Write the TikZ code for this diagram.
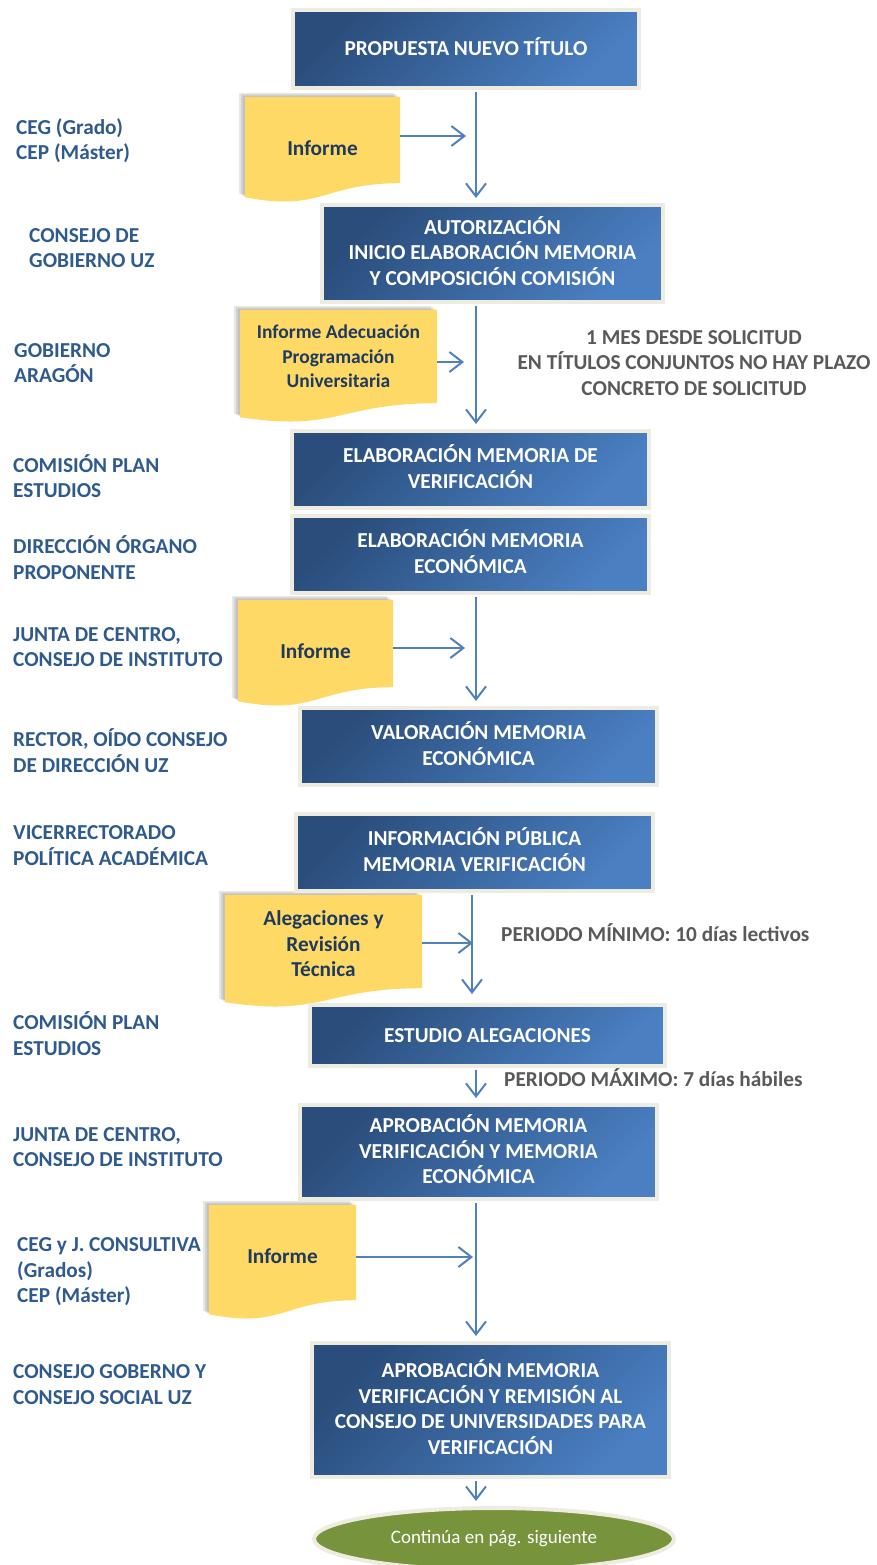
\documentclass[tikz,border=0pt]{standalone}
\usepackage{fontspec}
\setmainfont{Carlito}
\usetikzlibrary{arrows.meta,shapes.geometric,calc}
\pgfdeclarelayer{background}
\pgfsetlayers{background,main}

\definecolor{boxdark}{HTML}{2A4D7B}
\definecolor{boxlight}{HTML}{4A7FC2}
\definecolor{boxrim}{HTML}{EEECE1}
\definecolor{flowblue}{HTML}{4F81BD}
\definecolor{docyellow}{HTML}{FFD966}
\definecolor{docnavy}{HTML}{1F3A5F}
\definecolor{whoblue}{HTML}{2F5A8E}
\definecolor{notegray}{HTML}{595959}
\definecolor{endgreen}{HTML}{77933C}

\newcommand\tstrut{\rule[-5.75pt]{0pt}{25.5pt}}

\begin{document}
\begin{tikzpicture}[x=1pt, y=-1pt,
  txt/.style={font=\fontsize{21.3}{25.5}\selectfont\bfseries,
    execute at begin node=\tstrut, execute at end node=\tstrut},
  stepbox/.style={txt, draw=boxrim, line width=4pt, top color=boxdark,
    bottom color=boxlight, shading angle=45, text=white, align=center, inner sep=0pt},
  docshape/.style={inner sep=0pt},
  docbox/.style={txt, text=docnavy, align=center, inner sep=0pt},
  who/.style={txt, text=whoblue, align=left, anchor=west, inner sep=0pt},
  note/.style={txt, text=notegray, align=center, inner sep=0pt},
  flow/.style={draw=flowblue, line width=2pt, -{Straight Barb[length=13pt,width=20pt]}}]

  \useasboundingbox (0,0) rectangle (876,1565);

  % Process steps
  \node[stepbox, minimum width=346pt, minimum height=78pt] (b1) at (466,49) {PROPUESTA NUEVO TÍTULO};
  \node[stepbox, minimum width=341pt, minimum height=97pt] (b2) at (492.5,253.5)
    {AUTORIZACIÓN\\INICIO ELABORACIÓN MEMORIA\\Y COMPOSICIÓN COMISIÓN};
  \node[stepbox, minimum width=357pt, minimum height=77pt] (b3) at (470.5,469.5)
    {ELABORACIÓN MEMORIA DE\\VERIFICACIÓN};
  \node[stepbox, minimum width=357pt, minimum height=77pt] (b4) at (470.5,554.5)
    {ELABORACIÓN MEMORIA\\ECONÓMICA};
  \node[stepbox, minimum width=357pt, minimum height=77pt] (b5) at (478.5,746.5)
    {VALORACIÓN MEMORIA\\ECONÓMICA};
  \node[stepbox, minimum width=357pt, minimum height=77pt] (b6) at (474.5,852.5)
    {INFORMACIÓN PÚBLICA\\MEMORIA VERIFICACIÓN};
  \node[stepbox, minimum width=355pt, minimum height=61pt] (b7) at (487.5,1035.5)
    {ESTUDIO ALEGACIONES};
  \node[stepbox, minimum width=357pt, minimum height=94pt] (b8) at (478.5,1152)
    {APROBACIÓN MEMORIA\\VERIFICACIÓN Y MEMORIA\\ECONÓMICA};
  \node[stepbox, minimum width=357pt, minimum height=134pt] (b9) at (490.5,1410)
    {APROBACIÓN MEMORIA\\VERIFICACIÓN Y REMISIÓN AL\\CONSEJO DE UNIVERSIDADES PARA\\VERIFICACIÓN};
  \node[ellipse, draw=boxrim, line width=4pt, fill=endgreen, text=white,
    font=\fontsize{19}{23}\selectfont, minimum width=360pt, minimum height=62pt] (ell) at (494,1539)
    {Continúa en pág. siguiente};

  % Documents
  \node[docshape, minimum width=155pt, minimum height=86pt,
    label={[docbox, yshift=-9pt]center:Informe}] (d1) at (322.5,140) {};
  \node[docshape, minimum width=197pt, minimum height=93pt,
    label={[docbox, font=\fontsize{19.5}{24.5}\selectfont\bfseries, yshift=-3pt]center:{Informe Adecuación\\Programación\\Universitaria}}] (d2) at (338.5,356.5) {};
  \node[docshape, minimum width=155pt, minimum height=87pt,
    label={[docbox, yshift=-8pt]center:Informe}] (d3) at (315.5,643.5) {};
  \node[docshape, minimum width=197pt, minimum height=93pt,
    label={[docbox, yshift=-5pt]center:{Alegaciones y\\Revisión\\Técnica}}] (d4) at (323.5,941.5) {};
  \node[docshape, minimum width=147pt, minimum height=95pt,
    label={[docbox, yshift=-4pt]center:Informe}] (d5) at (282.5,1252.5) {};

  \begin{pgfonlayer}{background}
    \foreach \d in {d1,d2,d3,d4,d5} {
      \foreach \s in {2,4,6} {
        \fill[black, opacity=0.09] ($(\d.north west)+(-\s,-0.6*\s)$) -- ($(\d.north east)+(-\s,-0.6*\s)$)
          -- ($(\d.south east)+(-\s,-0.6*\s)$) .. controls ($(\d.south)+(-\s,-0.6*\s)$) and ($(\d.south)+(-\s,29-0.6*\s)$)
          .. ($(\d.south west)+(-\s,14-0.6*\s)$) -- cycle;
      }
      \fill[docyellow] (\d.north west) -- (\d.north east) -- (\d.south east)
        .. controls (\d.south) and ($(\d.south)+(0,29)$) .. ($(\d.south west)+(0,14)$) -- cycle;
    }
  \end{pgfonlayer}

  % Who does each step
  \foreach \x/\y/\txt [count=\i] in {
      16/142/{CEG (Grado)\\CEP (Máster)},
      29/251/{CONSEJO DE\\GOBIERNO UZ},
      14/366/{GOBIERNO\\ARAGÓN},
      13/479/{COMISIÓN PLAN\\ESTUDIOS},
      13/560.5/{DIRECCIÓN ÓRGANO\\PROPONENTE},
      13/650/{JUNTA DE CENTRO,\\CONSEJO DE INSTITUTO},
      13/753.5/{RECTOR, OÍDO CONSEJO\\DE DIRECCIÓN UZ},
      13/848.5/{VICERRECTORADO\\POLÍTICA ACADÉMICA},
      13/1036.5/{COMISIÓN PLAN\\ESTUDIOS},
      13/1150/{JUNTA DE CENTRO,\\CONSEJO DE INSTITUTO},
      17/1273/{CEG y J. CONSULTIVA\\(Grados)\\CEP (Máster)},
      13/1387.5/{CONSEJO GOBERNO Y\\CONSEJO SOCIAL UZ}} {
    \node[who] (who\i) at (\x,\y) {\txt};
  }

  % Deadlines
  \node[note] (n1) at (694,365.5)
    {1 MES DESDE SOLICITUD\\EN TÍTULOS CONJUNTOS NO HAY PLAZO\\CONCRETO DE SOLICITUD};
  \node[note, anchor=west] (n2) at (501,934.5) {PERIODO MÍNIMO: 10 días lectivos};
  \node[note, anchor=west] (n3) at (504,1079.5) {PERIODO MÁXIMO: 7 días hábiles};

  % Main flow
  \coordinate (spine) at (476,0);
  \coordinate (spine2) at (472,0);
  \foreach \a/\b in {b1/b2, b2/b3, b4/b5, b7/b8, b8/b9, b9/ell} {
    \draw[flow, shorten <=2pt, shorten >=5pt] (\a.south -| spine) -- (\b.north -| spine);
  }
  \draw[flow, shorten <=2pt, shorten >=9pt] (b6.south -| spine2) -- (b7.north -| spine2);

  % Documents into the flow
  \coordinate (j1) at (466,136);
  \coordinate (j2) at (464,362);
  \coordinate (j3) at (465,648);
  \coordinate (j4) at (473,943);
  \coordinate (j5) at (473,1257);
  \foreach \d/\j in {d1/j1, d2/j2, d3/j3, d4/j4, d5/j5} {
    \draw[flow] (\d.east |- \j) -- (\j);
  }
\end{tikzpicture}
\end{document}
